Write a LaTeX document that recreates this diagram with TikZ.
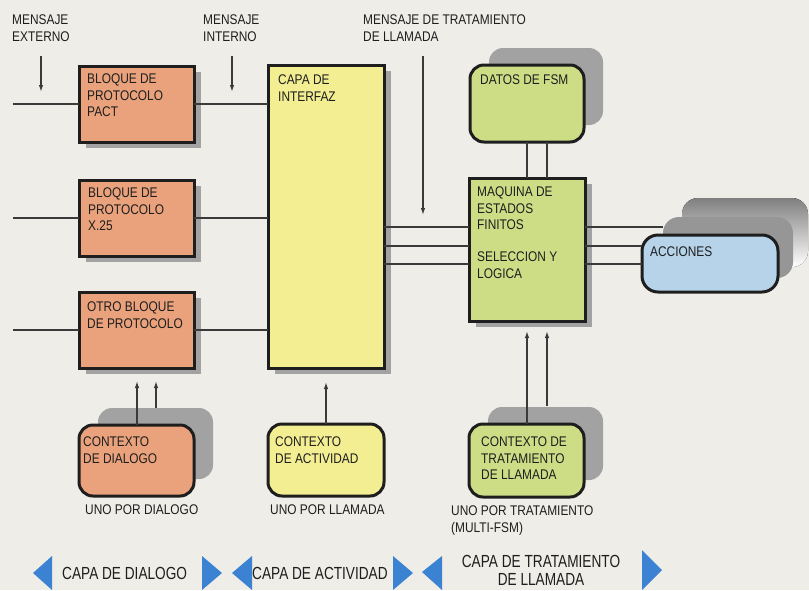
\documentclass[tikz,border=0pt]{standalone}
\usepackage{fontspec}
\newfontfamily\bodyfont[FakeStretch=0.85]{Liberation Sans}
\newfontfamily\layerfont[FakeStretch=0.78]{Liberation Sans}
\usetikzlibrary{arrows.meta,shadows}

\definecolor{paper}{HTML}{EEEDE8}
\definecolor{ink}{HTML}{1E1E1E}
\definecolor{wire}{HTML}{3A3A3A}
\definecolor{shade}{HTML}{A2A2A2}
\definecolor{shadedark}{HTML}{969696}
\definecolor{dialogfill}{HTML}{E9A27C}
\definecolor{activfill}{HTML}{F3EE92}
\definecolor{callfill}{HTML}{CDDD86}
\definecolor{actfill}{HTML}{B6D3EA}
\definecolor{layerblue}{HTML}{3C82D2}

\begin{document}
\begin{tikzpicture}[x=1pt,y=-1pt,
  block/.style={draw=ink, line width=3pt, inner sep=0pt, outer sep=0pt},
  roundblock/.style={block, rounded corners=14pt},
  boxshadow/.style={drop shadow={shadow xshift=7pt, shadow yshift=-6pt, fill=shade, opacity=1}},
  backshadow/.style={drop shadow={shadow xshift=19pt, shadow yshift=17pt, fill=shade, opacity=1}},
  txt/.style={anchor=north west, inner sep=0pt, align=left, text=ink,
    font=\bodyfont\fontsize{14}{16.3}\selectfont},
  layertxt/.style={inner sep=0pt, align=center, text=ink,
    font=\layerfont\fontsize{17.5}{18}\selectfont},
  wireline/.style={draw=wire, line width=1.3pt},
  arrowline/.style={wireline, -{Latex[length=7pt,width=4.5pt]}},
  tri/.style={fill=layerblue}
]
% paper
\fill[paper] (0,0) rectangle (809,590);
\useasboundingbox (0,0) rectangle (809,590);

% ---- dialogue layer blocks
\node[block, boxshadow, fill=dialogfill, minimum width=115pt, minimum height=76pt] (pact) at (136.5,104) {};
\node[block, boxshadow, fill=dialogfill, minimum width=115pt, minimum height=76pt] (x25) at (136.5,218) {};
\node[block, boxshadow, fill=dialogfill, minimum width=115pt, minimum height=76pt] (otro) at (136.5,330) {};

% ---- interface layer
\node[block, boxshadow, fill=activfill, minimum width=116pt, minimum height=303pt] (capa) at (326,216.5) {};

% ---- call handling
\node[roundblock, backshadow, fill=callfill, minimum width=114pt, minimum height=77pt] (datos) at (527,103.5) {};
\node[block, boxshadow, fill=callfill, minimum width=116pt, minimum height=143pt] (fsm) at (527,249.5) {};

% actions, with two stacked copies behind
\fill[shade, rounded corners=16pt] (682,198) rectangle (808,267);
\fill[shadedark, rounded corners=16pt] (663,217) rectangle (793,278);
\node[roundblock, rounded corners=16pt, fill=actfill, minimum width=136pt, minimum height=57pt] (acc) at (710,263.5) {};

% ---- contexts
\node[roundblock, backshadow, fill=dialogfill, minimum width=115pt, minimum height=71pt] (ctxd) at (136.5,460.5) {};
\node[roundblock, fill=activfill, minimum width=116pt, minimum height=72pt] (ctxa) at (326,460) {};
\node[roundblock, backshadow, fill=callfill, minimum width=115pt, minimum height=73pt] (ctxt) at (526.5,460.5) {};

% ---- texts inside the blocks
\node[txt] (pact-t) at (87,74) {BLOQUE DE\\PROTOCOLO\\PACT};
\node[txt] (x25-t) at (88,188) {BLOQUE DE\\PROTOCOLO\\X.25};
\node[txt] (otro-t) at (87,302) {OTRO BLOQUE\\DE PROTOCOLO};
\node[txt] (capa-t) at (278,75) {CAPA DE\\INTERFAZ};
\node[txt] (datos-t) at (480,75) {DATOS DE FSM};
\node[txt] (fsm-t) at (477,187) {MAQUINA DE\\ESTADOS\\FINITOS\\[16pt]SELECCION Y\\LOGICA};
\node[txt] (acc-t) at (650,247) {ACCIONES};
\node[txt] (ctxd-t) at (83,437) {CONTEXTO\\DE DIALOGO};
\node[txt] (ctxa-t) at (275,437) {CONTEXTO\\DE ACTIVIDAD};
\node[txt] (ctxt-t) at (481,437) {CONTEXTO DE\\TRATAMIENTO\\DE LLAMADA};

% ---- captions
\node[txt] (msg-ext) at (12,15) {MENSAJE\\EXTERNO};
\node[txt] (msg-int) at (203,15) {MENSAJE\\INTERNO};
\node[txt] (msg-call) at (363,15) {MENSAJE DE TRATAMIENTO\\DE LLAMADA};
\node[txt] (one-d) at (85,505) {UNO POR DIALOGO};
\node[txt] (one-a) at (270,505) {UNO POR LLAMADA};
\node[txt] (one-t) at (451,506) {UNO POR TRATAMIENTO\\(MULTI-FSM)};

% ---- free ends
\coordinate (in-pact) at (13,104);
\coordinate (in-x25) at (13,218);
\coordinate (in-otro) at (13,330);
\coordinate (ext-a) at (41,56);
\coordinate (ext-b) at (41,92);
\coordinate (int-a) at (232,56);
\coordinate (int-b) at (232,92);
\coordinate (call-a) at (423,56);
\coordinate (call-b) at (423,215);
\coordinate (tip-d1) at (137,381);
\coordinate (tip-d2) at (156,381);
\coordinate (tip-a) at (326,382);
\coordinate (tip-t1) at (527,331);
\coordinate (tip-t2) at (547,331);
\coordinate (accshadow) at (663,227);

% ---- connectors
\draw[wireline] (in-pact) -- (pact.west);
\draw[wireline] (in-x25) -- (x25.west);
\draw[wireline] (in-otro) -- (otro.west);
\draw[wireline] (pact.east) -- (capa.west |- pact.east);
\draw[wireline] (x25.east) -- (capa.west |- x25.east);
\draw[wireline] (otro.east) -- (capa.west |- otro.east);

\foreach \yy in {227,246,264} {
  \draw[wireline] (capa.east |- 0,\yy) -- (fsm.west |- 0,\yy);
}
\draw[wireline] (fsm.east |- accshadow) -- (accshadow);
\draw[wireline] (fsm.east |- 0,246) -- (acc.west |- 0,246);
\draw[wireline] (fsm.east |- 0,264) -- (acc.west |- 0,264);

\draw[wireline] (datos.south) -- (fsm.north);
\draw[wireline] ([xshift=20pt]datos.south) -- ([xshift=20pt]fsm.north);

\draw[arrowline] (ext-a) -- (ext-b);
\draw[arrowline] (int-a) -- (int-b);
\draw[arrowline] (call-a) -- (call-b);

\draw[arrowline] (ctxd.north -| tip-d1) -- (tip-d1);
\draw[arrowline] (156,408) -- (tip-d2);
\draw[arrowline] (ctxa.north) -- (tip-a);
\draw[arrowline] (ctxt.north -| tip-t1) -- (tip-t1);
\draw[arrowline] (547,406) -- (tip-t2);

% ---- layer markers along the bottom
\fill[tri] (33,573) -- (52,556) -- (52,590) -- cycle;
\fill[tri] (202,556) -- (222,573) -- (202,590) -- cycle;
\fill[tri] (232,573) -- (252,556) -- (252,590) -- cycle;
\fill[tri] (393,556) -- (413,573) -- (393,590) -- cycle;
\fill[tri] (422,572) -- (442,556) -- (442,590) -- cycle;
\fill[tri] (642,550) -- (662,570) -- (642,590) -- cycle;

\node[layertxt, anchor=north west] (lay-d) at (62,567) {CAPA DE DIALOGO};
\node[layertxt, anchor=north west] (lay-a) at (252,567) {CAPA DE ACTIVIDAD};
\node[layertxt, anchor=north] (lay-t) at (541,555) {CAPA DE TRATAMIENTO\\DE LLAMADA};
\end{tikzpicture}
\end{document}
